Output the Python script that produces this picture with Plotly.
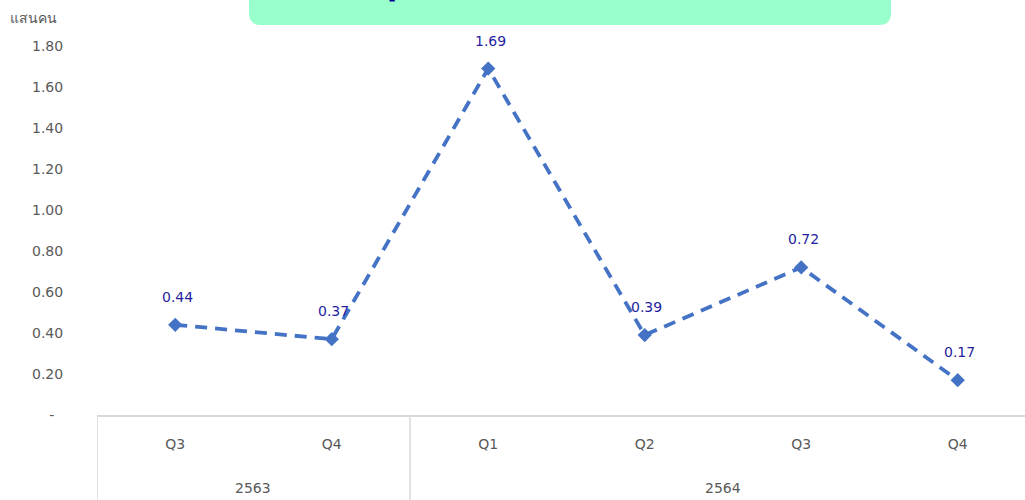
import plotly.graph_objects as go

years = ["2563", "2563", "2564", "2564", "2564", "2564"]
quarters = ["Q3", "Q4", "Q1", "Q2", "Q3", "Q4"]
values = [0.44, 0.37, 1.69, 0.39, 0.72, 0.17]
y_ticks = [0, 0.2, 0.4, 0.6, 0.8, 1.0, 1.2, 1.4, 1.6, 1.8]
y_unit = "แสนคน"
title_text = "จำนวนผู้ว่างงาน"

x_idx = list(range(len(values)))
line_color = "#4472C4"
label_color = "#1F1F9F"
gray = "#595959"
font_family = "DejaVu Sans"

W, H = 1025, 500
pl, pr, pt, pb = 97, 0, 46, 85
pw, ph = W - pl - pr, H - pt - pb


def px(x):
    return (x - pl) / pw


def py(y):
    return (H - pb - y) / ph


fig = go.Figure()
fig.add_trace(go.Scatter(
    x=x_idx, y=values, mode="lines+markers",
    line=dict(color=line_color, width=3.8, dash="12px,8px"),
    marker=dict(symbol="diamond", size=11, color=line_color),
    hoverinfo="skip", showlegend=False, cliponaxis=False,
))

annotations = []
for i, v in zip(x_idx, values):
    annotations.append(dict(x=i, y=v, xref="x", yref="y", text=f"{v:.2f}",
                            showarrow=False, yshift=28, xshift=2,
                            font=dict(family=font_family, size=14, color=label_color)))

# year group labels and dividers
groups = []
for i, yr in enumerate(years):
    if not groups or groups[-1][0] != yr:
        groups.append([yr, i, i])
    else:
        groups[-1][2] = i
shapes = []
for yr, a, b in groups:
    annotations.append(dict(x=(a + b) / 2, y=0, xref="x", yref="paper", text=yr,
                            showarrow=False, yshift=-73, yanchor="middle",
                            font=dict(family=font_family, size=14, color=gray)))
    shapes.append(dict(type="line", xref="x", yref="paper", x0=a - 0.5, x1=a - 0.5,
                       y0=0, y1=py(H), line=dict(color="#D9D9D9", width=1.5)))
shapes.append(dict(type="line", xref="x", yref="paper", x0=groups[-1][2] + 0.5,
                   x1=groups[-1][2] + 0.5, y0=0, y1=py(H),
                   line=dict(color="#D9D9D9", width=1.5)))

# y unit label
annotations.append(dict(x=px(8), y=py(18), xref="paper", yref="paper", text=y_unit,
                        showarrow=False, xanchor="left", yanchor="middle",
                        font=dict(family=font_family, size=14, color=gray)))

# title box (rounded bottom corners, cut off at the top)
x0, x1, ytop, ybot, r = 249, 891, -20, 25, 12
path = (f"M {px(x0)},{py(ytop)} L {px(x0)},{py(ybot - r)} "
        f"Q {px(x0)},{py(ybot)} {px(x0 + r)},{py(ybot)} "
        f"L {px(x1 - r)},{py(ybot)} Q {px(x1)},{py(ybot)} {px(x1)},{py(ybot - r)} "
        f"L {px(x1)},{py(ytop)} Z")
shapes.append(dict(type="path", xref="paper", yref="paper", path=path,
                   fillcolor="#99FFCC", line=dict(width=0), layer="below"))
annotations.append(dict(x=px(314), y=py(-13), xref="paper", yref="paper",
                        text=f"<b>{title_text}</b>",
                        showarrow=False, xanchor="left", yanchor="middle",
                        font=dict(family="Noto Sans", size=22, color="#000099")))

fig.update_layout(
    width=W, height=H,
    margin=dict(l=pl, r=pr, t=pt, b=pb),
    paper_bgcolor="white", plot_bgcolor="white",
    xaxis=dict(range=[-0.5, 5.43], tickvals=x_idx, ticktext=quarters,
               showgrid=False, zeroline=False, showline=True, linecolor="#D9D9D9",
               linewidth=1.5, ticks="outside", ticklen=15, tickcolor="rgba(0,0,0,0)",
               tickfont=dict(family=font_family, size=14, color=gray)),
    yaxis=dict(range=[0, 1.8], tickvals=y_ticks,
               ticktext=["-  "] + [f"{t:.2f}" for t in y_ticks[1:]],
               showgrid=False, zeroline=False, showline=False,
               ticks="outside", ticklen=30, tickcolor="rgba(0,0,0,0)",
               tickfont=dict(family=font_family, size=14, color=gray)),
    annotations=annotations,
    shapes=shapes,
    font=dict(family=font_family),
)

fig.write_html("out.html", config={"displayModeBar": False},
               post_script="document.body.style.margin='0';")
